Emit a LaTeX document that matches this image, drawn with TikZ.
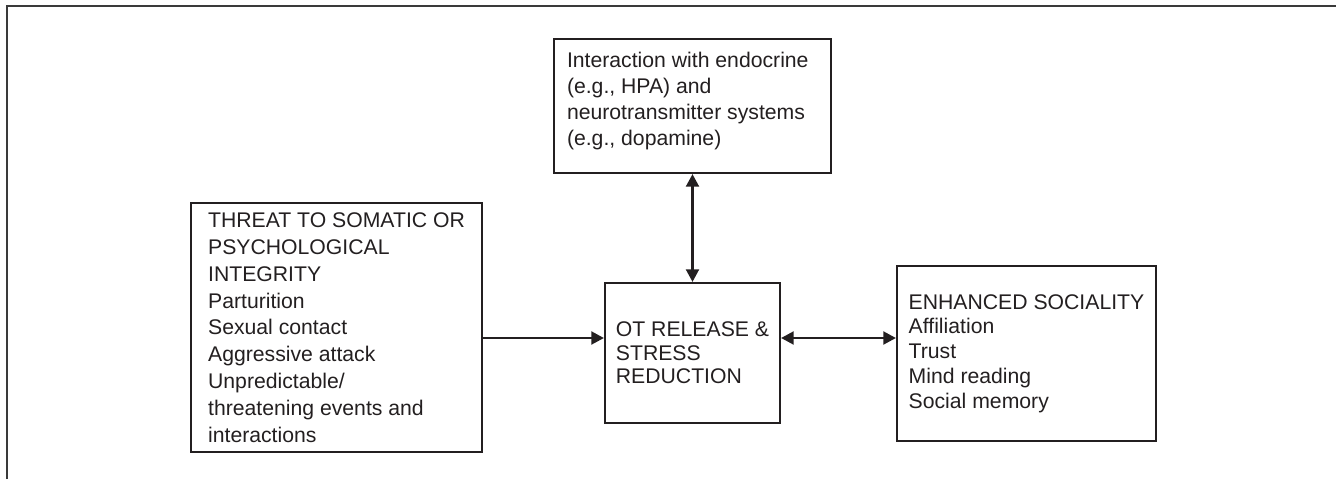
\documentclass[tikz,border=0pt]{standalone}
\usepackage{fontspec}
\setmainfont{Liberation Sans}
\usetikzlibrary{arrows.meta}

\definecolor{ink}{HTML}{231F20}
\definecolor{rule}{HTML}{3A3A3A}

\tikzset{
  box/.style={draw=ink, line width=1.5pt, text=ink, align=left, inner sep=0pt,
    font=\fontsize{15.9}{19.5}\selectfont},
  link/.style={draw=ink, line width=2.2pt, -{Triangle[length=9.5pt,width=9.5pt]}},
  twoway/.style={link, {Triangle[length=9.5pt,width=9.5pt]}-{Triangle[length=9.5pt,width=9.5pt]}},
}

\begin{document}
\begin{tikzpicture}[x=0.75pt,y=0.75pt,yscale=-1,xscale=1]
\useasboundingbox (0,0) rectangle (1336,479);

%Frame (top and left edges only)
\draw [rule, line width=1.4pt] (7,479) -- (7,6) -- (1336,6) ;

%Box: threat
\node [box, minimum width=218.25pt, minimum height=186.75pt,
  font=\fontsize{15.9}{20.1}\selectfont] (threat) at (336.5,327.5)
  {THREAT TO SOMATIC OR\\PSYCHOLOGICAL\\INTEGRITY\\Parturition\\Sexual contact\\Aggressive attack\\Unpredictable/\\threatening events and\\interactions};

%Box: endocrine (text sits at the top)
\node [box, minimum width=207.75pt, inner xsep=9.75pt, inner ysep=9.75pt] (endo) at (692.5,106)
  {\parbox[c][81pt][t]{188.25pt}{Interaction with endocrine\\(e.g., HPA) and\\neurotransmitter systems\\(e.g., dopamine)}};

%Box: OT release
\node [box, minimum width=131.25pt, minimum height=105pt,
  font=\fontsize{15.9}{17.7}\selectfont] (ot) at (692.5,353)
  {OT RELEASE \&\\STRESS\\REDUCTION};

%Box: sociality
\node [box, minimum width=194.25pt, minimum height=131.25pt,
  font=\fontsize{15.9}{18.6}\selectfont] (social) at (1026.5,353.5)
  {ENHANCED SOCIALITY\\Affiliation\\Trust\\Mind reading\\Social memory};

%Arrows
\coordinate (lane) at (0,338);
\draw [twoway] (endo.south) -- (ot.north) ;
\draw [link] (threat.east |- lane) -- (ot.west |- lane) ;
\draw [twoway] (ot.east |- lane) -- (social.west |- lane) ;

\end{tikzpicture}
\end{document}
